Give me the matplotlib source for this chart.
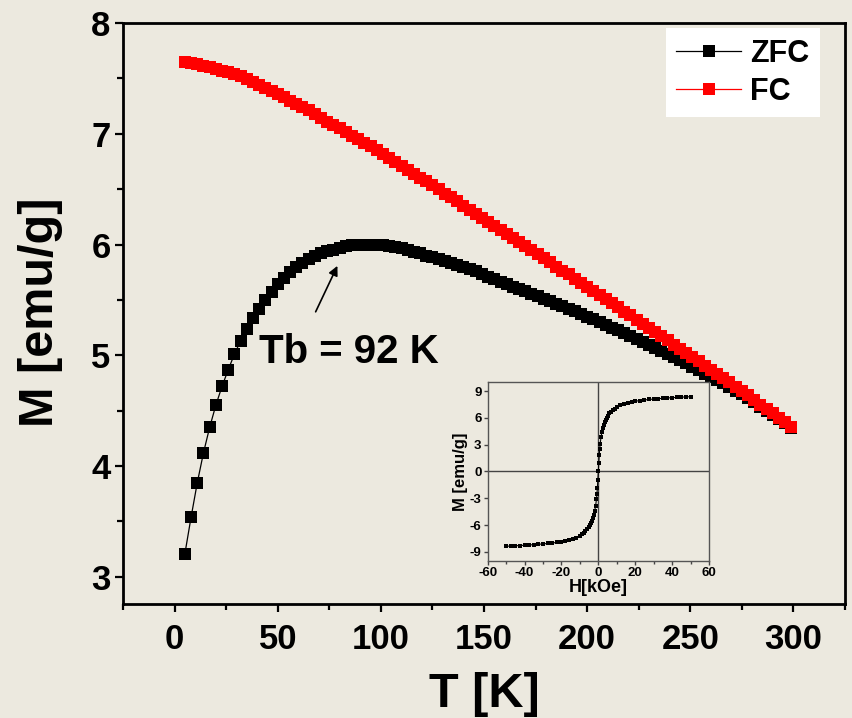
import matplotlib
matplotlib.use("Agg")
import matplotlib.pyplot as plt
from matplotlib.ticker import MultipleLocator

plt.rcParams['font.family'] = ['Liberation Sans', 'DejaVu Sans']
plt.rcParams['font.weight'] = 'bold'
plt.rcParams['axes.unicode_minus'] = False

BG = '#ece9df'

# temperature sweep (K)
temp = [5, 8, 11, 14, 17, 20, 23, 26, 29, 32, 35, 38, 41, 44, 47, 50, 53, 56, 59, 62,
        65, 68, 71, 74, 77, 80, 83, 86, 89, 92, 95, 98, 101, 104, 107, 110, 113, 116, 119, 122,
        125, 128, 131, 134, 137, 140, 143, 146, 149, 152, 155, 158, 161, 164, 167, 170, 173, 176, 179, 182,
        185, 188, 191, 194, 197, 200, 203, 206, 209, 212, 215, 218, 221, 224, 227, 230, 233, 236, 239, 242,
        245, 248, 251, 254, 257, 260, 263, 266, 269, 272, 275, 278, 281, 284, 287, 290, 293, 296, 299]

m_zfc = [3.21, 3.54, 3.85, 4.12, 4.35, 4.55, 4.72, 4.87, 5.01, 5.13, 5.24, 5.335, 5.42, 5.50, 5.575, 5.64, 5.70, 5.75, 5.795, 5.835,
         5.87, 5.895, 5.92, 5.94, 5.955, 5.97, 5.985, 5.995, 6.0, 6.0, 6.0, 6.0, 5.995, 5.985, 5.975, 5.965, 5.95, 5.935, 5.92, 5.90,
         5.885, 5.87, 5.85, 5.835, 5.815, 5.80, 5.78, 5.76, 5.735, 5.71, 5.69, 5.665, 5.645, 5.62, 5.60, 5.58, 5.555, 5.535, 5.51, 5.49,
         5.465, 5.445, 5.42, 5.40, 5.375, 5.35, 5.325, 5.30, 5.275, 5.25, 5.225, 5.20, 5.175, 5.15, 5.12, 5.095, 5.07, 5.04, 5.015, 4.983,
         4.956, 4.926, 4.898, 4.866, 4.834, 4.806, 4.775, 4.746, 4.715, 4.68, 4.648, 4.612, 4.576, 4.536, 4.499, 4.461, 4.424, 4.386, 4.348]

m_fc = [7.65, 7.64, 7.63, 7.615, 7.60, 7.585, 7.57, 7.555, 7.54, 7.52, 7.495, 7.47, 7.44, 7.41, 7.385, 7.36, 7.33, 7.30, 7.27, 7.24,
        7.21, 7.175, 7.145, 7.11, 7.08, 7.05, 7.015, 6.98, 6.95, 6.915, 6.885, 6.85, 6.815, 6.78, 6.745, 6.71, 6.675, 6.64, 6.605, 6.57,
        6.535, 6.50, 6.46, 6.425, 6.39, 6.35, 6.315, 6.28, 6.24, 6.205, 6.17, 6.13, 6.095, 6.06, 6.02, 5.985, 5.95, 5.91, 5.875, 5.84,
        5.80, 5.765, 5.73, 5.69, 5.655, 5.62, 5.58, 5.545, 5.51, 5.47, 5.435, 5.395, 5.36, 5.32, 5.285, 5.245, 5.21, 5.17, 5.135, 5.095,
        5.06, 5.02, 4.985, 4.945, 4.905, 4.87, 4.83, 4.795, 4.755, 4.715, 4.68, 4.64, 4.60, 4.555, 4.515, 4.475, 4.435, 4.395, 4.355]

# hysteresis loop at low temperature
h_field = [-50, -47.5, -45, -42.5, -40, -37.5, -35, -32.5, -30, -27.5, -25, -22.5, -20, -18, -16, -14, -12, -10,
           -9, -8, -7, -6, -5, -4.5, -4, -3.5, -3, -2.5, -2, -1.5, -1, -0.75, -0.5, -0.25, 0,
           0.25, 0.5, 0.75, 1, 1.5, 2, 2.5, 3, 3.5, 4, 4.5, 5, 6, 7, 8, 9,
           10, 12, 14, 16, 18, 20, 22.5, 25, 27.5, 30, 32.5, 35, 37.5, 40, 42.5, 45, 47.5, 50]
m_loop = [-8.38, -8.36, -8.33, -8.30, -8.27, -8.24, -8.20, -8.16, -8.12, -8.07, -8.02, -7.95, -7.87, -7.80, -7.70, -7.58, -7.42, -7.20,
          -7.05, -6.90, -6.72, -6.50, -6.20, -6.00, -5.80, -5.55, -5.25, -4.90, -4.45, -3.90, -3.10, -2.50, -1.80, -0.90, 0.0,
          0.90, 1.80, 2.50, 3.10, 3.90, 4.45, 4.90, 5.25, 5.55, 5.80, 6.00, 6.20, 6.50, 6.72, 6.90, 7.05,
          7.20, 7.42, 7.58, 7.70, 7.80, 7.87, 7.95, 8.02, 8.07, 8.12, 8.16, 8.20, 8.24, 8.27, 8.30, 8.33, 8.36, 8.38]

fig = plt.figure(figsize=(8.52, 7.18), dpi=100, facecolor=BG)
ax = fig.add_axes([0.1444, 0.1588, 0.8474, 0.8092], facecolor=BG)

ax.plot(temp, m_zfc, color='black', lw=0.9, marker='s', ms=9, mew=0, label='ZFC')
ax.plot(temp, m_fc, color='#ff0000', lw=0.9, marker='s', ms=9, mew=0, label='FC')

ax.set_xlim(-25, 325)
ax.set_ylim(2.755, 8.0)
ax.xaxis.set_major_locator(MultipleLocator(50))
ax.xaxis.set_minor_locator(MultipleLocator(25))
ax.yaxis.set_major_locator(MultipleLocator(1))
ax.yaxis.set_minor_locator(MultipleLocator(0.5))
ax.tick_params(which='both', direction='out', width=1.6, labelsize=25, top=False, right=False)
ax.tick_params(which='major', length=6)
ax.tick_params(which='minor', length=4)
ax.tick_params(axis='x', pad=8)
ax.tick_params(axis='y', pad=3)
for s in ax.spines.values():
    s.set_linewidth(2)

fig.text(0.568, 0.033, 'T [K]', fontsize=35, fontweight='bold', ha='center', va='center')
fig.text(0.047, 0.565, 'M [emu/g]', fontsize=35, fontweight='bold', ha='center', va='center', rotation=90)

ax.annotate('', xy=(79.5, 5.83), xytext=(67.8, 5.37),
            arrowprops=dict(arrowstyle='-|>', color='black', lw=1.2, mutation_scale=14))
ax.text(41, 4.93, 'Tb = 92 K', fontsize=29, fontweight='bold', va='baseline')

leg = ax.legend(loc='upper right', bbox_to_anchor=(0.965, 0.991), borderaxespad=0,
                fontsize=22, numpoints=1, handlelength=2.1, handletextpad=0.3,
                labelspacing=0.25, borderpad=0.35, fancybox=False, framealpha=1)
leg.get_frame().set_facecolor('white')
leg.get_frame().set_edgecolor('none')

# inset: M(H) loop
ins = fig.add_axes([0.5724, 0.2191, 0.2597, 0.2485], facecolor='none')
ins.axhline(0, color='#444444', lw=1)
ins.axvline(0, color='#444444', lw=1)
ins.plot(h_field, m_loop, color='black', lw=0.8, marker='s', ms=3.4, mew=0)
ins.set_xlim(-60, 60)
ins.set_ylim(-10, 10)
ins.xaxis.set_major_locator(MultipleLocator(20))
ins.xaxis.set_minor_locator(MultipleLocator(10))
ins.yaxis.set_major_locator(MultipleLocator(3))
ins.tick_params(which='both', direction='out', width=1, labelsize=9.5, pad=1.5, color='#444444')
ins.tick_params(which='major', length=3)
ins.tick_params(which='minor', length=2)
for s in ins.spines.values():
    s.set_linewidth(1)
    s.set_color('#555555')
ins.set_xlabel('H[kOe]', fontsize=13, fontweight='bold', labelpad=0)
ins.set_ylabel('M [emu/g]', fontsize=12, fontweight='bold', labelpad=1)

fig.savefig('out.png', dpi=100, facecolor=BG)
